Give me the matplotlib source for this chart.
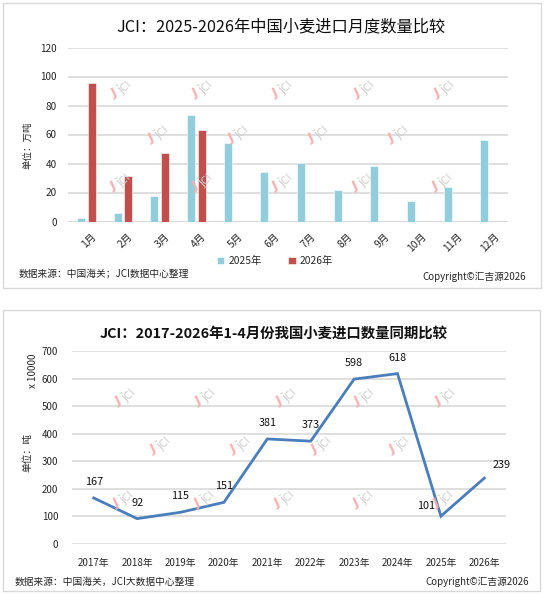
import matplotlib
matplotlib.use('Agg')
import matplotlib.pyplot as plt
from matplotlib.patches import Rectangle
import numpy as np

plt.rcParams['font.family'] = ['Noto Sans CJK SC', 'DejaVu Sans']

# ---------------- data ----------------
months = ['1月', '2月', '3月', '4月', '5月', '6月', '7月', '8月', '9月', '10月', '11月', '12月']
imports_2025 = [2.5, 6.2, 17.6, 73.6, 54.2, 33.8, 40.5, 21.7, 38.2, 14.4, 24.0, 56.2]
imports_2026 = [95.5, 31.5, 47.5, 63.3]
series_names = ['2025年', '2026年']

years = ['2017年', '2018年', '2019年', '2020年', '2021年', '2022年', '2023年', '2024年', '2025年', '2026年']
jan_apr_totals = [167, 92, 115, 151, 381, 373, 598, 618, 101, 239]

title_top = 'JCI：2025-2026年中国小麦进口月度数量比较'
title_bottom = 'JCI：2017-2026年1-4月份我国小麦进口数量同期比较'

# ---------------- figure ----------------
W, H = 546, 595
fig = plt.figure(figsize=(W / 100, H / 100), dpi=100)
fig.patch.set_facecolor('white')

def fx(px):
    return px / W

def fy(py):
    return 1 - py / H

GRID = '#d9d9d9'
BLUE = '#92cddc'
RED = '#c0504d'
LINE = '#4a7ebb'
TXT = '#262626'

# panel borders
for (x0, y0, x1, y1) in [(3, 3, 541, 288), (3, 310, 540, 591)]:
    fig.add_artist(Rectangle((fx(x0), fy(y1)), fx(x1 - x0), (y1 - y0) / H,
                             transform=fig.transFigure, fill=False,
                             edgecolor='#d9d9d9', lw=1.0))

def watermark(px, py):
    fig.text(fx(px + 4), fy(py - 1), 'JCI', color='#cdcdcd', fontsize=7.5,
             rotation=45, ha='center', va='center', family='DejaVu Sans')
    fig.text(fx(px - 8), fy(py + 4), 'J', color='#f7b0b0', fontsize=9,
             rotation=25, ha='center', va='center', fontweight='bold',
             family='DejaVu Sans')
    fig.text(fx(px - 5), fy(py - 3), '-', color='#b5dcb5', fontsize=6,
             rotation=20, ha='center', va='center', fontweight='bold',
             family='DejaVu Sans')

for py, xs in [(89, [122, 203, 283, 365, 445]), (134, [159, 239, 319, 399]),
               (182, [121, 203, 283, 363, 443]),
               (397, [126, 206, 287, 365, 446]), (445, [161, 241, 322, 400]),
               (499, [124, 205, 285, 364, 444])]:
    for px in xs:
        watermark(px, py)

# ---------------- top: grouped bars ----------------
ax1 = fig.add_axes([fx(68), fy(221.5), fx(508 - 68), (221.5 - 47.5) / H])
ax1.patch.set_alpha(0)
x = np.arange(len(months))
bw = 0.22
off = 0.145
ax1.bar(x - off, imports_2025, width=bw, color=BLUE, edgecolor='white',
        linewidth=0.4, label=series_names[0], zorder=3)
ax1.bar(x[:len(imports_2026)] + off, imports_2026, width=bw, color=RED,
        edgecolor='white', linewidth=0.4, label=series_names[1], zorder=3)
ax1.set_xlim(-0.5, len(months) - 0.5)
ax1.set_ylim(0, 120)
ax1.set_yticks(range(0, 121, 20))
ax1.yaxis.grid(True, color=GRID, lw=1.2)
ax1.set_axisbelow(True)
for s in ax1.spines.values():
    s.set_visible(False)
ax1.axhline(0, color=GRID, lw=1.5, zorder=2)
ax1.tick_params(axis='both', length=0, labelsize=7.2, colors=TXT)
ax1.tick_params(axis='y', pad=8)
ax1.set_xticks(x + 0.12)
ax1.set_xticklabels(months, rotation=45, ha='right', va='top',
                    rotation_mode='anchor', fontsize=7.4)
ax1.tick_params(axis='x', pad=7)
fig.text(fx(28), fy(145), '单位：万吨', rotation=90, ha='center',
         va='center', fontsize=6.8, color=TXT)
leg = ax1.legend(loc='center', bbox_to_anchor=(fx(275), fy(261)),
                 bbox_transform=fig.transFigure, ncol=2, frameon=False,
                 fontsize=7.4, handlelength=0.7, handleheight=0.7,
                 columnspacing=2.6, handletextpad=0.4)
for t in leg.get_texts():
    t.set_color(TXT)

fig.text(fx(281), fy(27), title_top, ha='center', va='center',
         fontsize=11.7, color='#0d0d0d')
fig.text(fx(19), fy(273), '数据来源：中国海关；JCI数据中心整理',
         ha='left', va='center', fontsize=7, color=TXT)
fig.text(fx(526), fy(276.5), 'Copyright©汇吉源2026', ha='right',
         va='center', fontsize=7, color=TXT)

# ---------------- bottom: line ----------------
ax2 = fig.add_axes([fx(72), fy(544), fx(506 - 72), (544 - 351) / H])
ax2.patch.set_alpha(0)
xi = np.arange(len(years))
ax2.plot(xi, jan_apr_totals, color=LINE, lw=2.0, zorder=3,
         solid_joinstyle='miter')
ax2.set_xlim(-0.5, len(years) - 0.5)
ax2.set_ylim(0, 700)
ax2.set_yticks(range(0, 701, 100))
ax2.yaxis.grid(True, color=GRID, lw=1.2)
ax2.set_axisbelow(True)
for s in ax2.spines.values():
    s.set_visible(False)
ax2.set_xticks(xi)
ax2.set_xticklabels(years, fontsize=6.9)
ax2.tick_params(axis='both', length=0, labelsize=7, colors=TXT)
ax2.tick_params(axis='x', pad=10)
ax2.tick_params(axis='y', pad=10)

label_offsets = {0: (0, 16), 1: (0, 16), 2: (0, 16), 3: (0, 16), 4: (0, 16),
                 5: (0, 16), 6: (0, 16), 7: (0, 16), 8: (-15, 10), 9: (17, 13)}
for i, v in enumerate(jan_apr_totals):
    dx, dy = label_offsets[i]
    ax2.annotate(str(v), (xi[i], v), xytext=(dx, dy),
                 textcoords='offset pixels', ha='center', va='center',
                 fontsize=7.8, color='#111111', zorder=4)

fig.text(fx(274), fy(334), title_bottom, ha='center', va='center',
         fontsize=10.4, fontweight='bold', color='#111111')
fig.text(fx(27), fy(453), '单位：吨', rotation=90, ha='center', va='center',
         fontsize=7, color=TXT)
fig.text(fx(33), fy(371), 'x 10000', rotation=90, ha='center', va='center',
         fontsize=7, color=TXT)
fig.text(fx(15), fy(581.5), '数据来源：中国海关，JCI大数据中心整理',
         ha='left', va='center', fontsize=7, color=TXT)
fig.text(fx(529), fy(581.5), 'Copyright©汇吉源2026', ha='right',
         va='center', fontsize=7, color=TXT)

fig.savefig('out.png', dpi=100, facecolor='white')
